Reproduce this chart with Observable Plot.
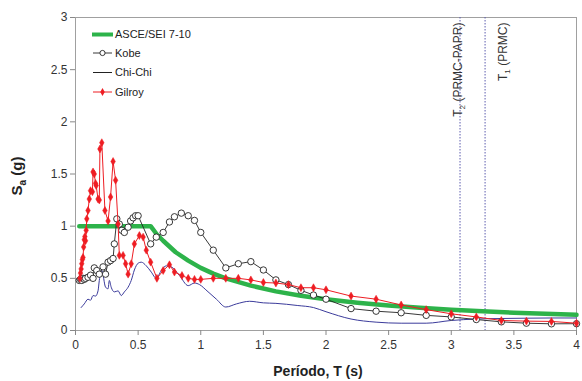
<!DOCTYPE html>
<html><head><meta charset="utf-8">
<script src="https://cdn.jsdelivr.net/npm/d3@7"></script>
<script src="https://cdn.jsdelivr.net/npm/@observablehq/plot@0.6"></script>
<style>
body{margin:0;background:#fff;}
#chart{position:relative;width:582px;height:381px;}
</style></head><body><div id="chart"></div>
<script>
// ---- Data ----
const asceT  = [0.03,0.6,0.65,0.7,0.8,0.9,1.0,1.1,1.2,1.4,1.6,1.8,2.0,2.25,2.5,2.75,3.0,3.25,3.5,3.75,4.0];
const asceSa = [1.0,1.0,0.92,0.86,0.75,0.67,0.60,0.545,0.50,0.43,0.375,0.333,0.30,0.267,0.24,0.218,0.20,0.185,0.171,0.16,0.15];

const kobeT  = [0.03,0.04,0.05,0.06,0.07,0.08,0.10,0.12,0.14,0.15,0.17,0.19,0.22,0.24,0.26,0.28,0.30,0.31,0.33,0.35,0.37,0.39,0.42,0.44,0.46,0.48,0.50,0.60,0.645,0.70,0.75,0.79,0.845,0.90,0.95,1.0,1.1,1.2,1.3,1.4,1.5,1.6,1.7,1.8,1.9,2.0,2.2,2.4,2.6,2.8,3.0,3.2,3.4,3.6,3.8,4.0];
const kobeSa = [0.48,0.49,0.48,0.50,0.49,0.50,0.51,0.53,0.50,0.60,0.575,0.54,0.61,0.54,0.655,0.67,0.69,0.83,1.07,1.02,0.96,0.94,0.99,1.05,1.08,1.10,1.10,0.83,0.895,0.94,1.04,1.09,1.125,1.10,1.055,0.94,0.77,0.60,0.64,0.66,0.58,0.485,0.44,0.385,0.34,0.30,0.21,0.185,0.17,0.145,0.13,0.105,0.083,0.07,0.064,0.065];

const chiT  = [0.045,0.07,0.10,0.12,0.14,0.16,0.18,0.19,0.21,0.24,0.26,0.27,0.285,0.31,0.34,0.365,0.39,0.42,0.445,0.47,0.50,0.525,0.565,0.605,0.645,0.685,0.725,0.765,0.83,0.90,0.95,0.99,1.05,1.125,1.2,1.285,1.39,1.5,1.6,1.77,1.9,2.0,2.2,2.4,2.6,2.8,3.0,3.2,3.4,3.6,3.8,4.0];
const chiSa = [0.22,0.255,0.30,0.29,0.335,0.33,0.38,0.48,0.575,0.415,0.40,0.48,0.415,0.37,0.38,0.335,0.37,0.415,0.48,0.58,0.645,0.655,0.62,0.56,0.50,0.575,0.62,0.61,0.527,0.43,0.455,0.44,0.38,0.30,0.225,0.255,0.28,0.265,0.26,0.24,0.22,0.18,0.11,0.08,0.07,0.07,0.096,0.11,0.115,0.118,0.12,0.12];

const gilT  = [0.035,0.04,0.045,0.05,0.055,0.06,0.065,0.07,0.075,0.08,0.085,0.09,0.10,0.11,0.12,0.135,0.14,0.15,0.16,0.165,0.18,0.19,0.195,0.21,0.235,0.26,0.28,0.30,0.32,0.34,0.35,0.38,0.40,0.42,0.445,0.47,0.51,0.54,0.565,0.60,0.65,0.70,0.75,0.79,0.85,0.90,0.95,1.0,1.1,1.2,1.3,1.4,1.5,1.6,1.7,1.8,1.9,2.0,2.2,2.4,2.6,2.8,3.0,3.2,3.4,3.6,3.8,4.0];
const gilSa = [0.50,0.55,0.59,0.64,0.68,0.70,0.80,0.87,0.90,0.86,0.96,1.07,1.15,1.26,1.34,1.33,1.52,1.50,1.41,1.39,1.26,1.25,1.74,1.80,1.15,1.05,1.28,1.62,1.44,1.02,0.72,0.72,0.64,0.54,0.64,0.83,0.91,0.895,0.77,0.655,0.50,0.575,0.63,0.56,0.527,0.50,0.49,0.49,0.50,0.50,0.50,0.485,0.46,0.455,0.44,0.41,0.41,0.39,0.33,0.30,0.245,0.20,0.16,0.13,0.096,0.09,0.087,0.07];

const periodT      = [3.07, 3.27];
const periodSub    = ["2", "1"];
const periodRest   = [" (PRMC-PAPR)", " (PRMC)"];

const xTicks = [0,0.5,1,1.5,2,2.5,3,3.5,4];
const yTicks = [0,0.5,1,1.5,2,2.5,3];
const seriesNames = ["ASCE/SEI 7-10","Kobe","Chi-Chi","Gilroy"];

// ---- build tables ----
const zip = (T, S) => T.map((t, i) => ({T: t, Sa: S[i]}));
const asce = zip(asceT, asceSa), kobe = zip(kobeT, kobeSa), chi = zip(chiT, chiSa), gil = zip(gilT, gilSa);
const periods = periodT.map((t, i) => ({T: t, label: "T" + periodSub[i] + periodRest[i], sub: periodSub[i], rest: periodRest[i]}));

const FONT = "'Liberation Sans', Arial, sans-serif";
const green = "#2db34a", red = "#ee1d23", navy = "#3b3b9b";
const fmt = d => String(d);

const plot = Plot.plot({
  width: 582, height: 381,
  marginLeft: 75, marginRight: 6, marginTop: 17, marginBottom: 51,
  style: {fontFamily: FONT, fontSize: "12px", color: "#333", background: "#fff"},
  x: {domain: [0, 4], label: null},
  y: {domain: [0, 3], label: null},
  marks: [
    Plot.frame({stroke: "#a0a0a0"}),
    Plot.axisX({ticks: xTicks, tickFormat: fmt, tickSize: 5, tickPadding: 5, stroke: "#888", fill: "#333", fontSize: 12, label: null}),
    Plot.axisY({ticks: yTicks, tickFormat: fmt, tickSize: 5, tickPadding: 3, stroke: "#888", fill: "#333", fontSize: 12, label: null}),
    Plot.ruleX(periods, {x: "T", stroke: "#5c5cae", strokeWidth: 1, strokeDasharray: "1.5,1.5"}),
    Plot.text(periods.filter((d, i) => i === 0), {x: "T", text: "label", frameAnchor: "top", rotate: -90, textAnchor: "end", dy: 5, dx: -7, fontSize: 12, fill: "#333", className: "plabel"}),
    Plot.text(periods.filter((d, i) => i === 1), {x: "T", text: "label", frameAnchor: "top", rotate: -90, textAnchor: "end", dy: 5, dx: 13, fontSize: 12, fill: "#333", className: "plabel"}),
    Plot.line(asce, {x: "T", y: "Sa", stroke: green, strokeWidth: 4.5, strokeLinejoin: "round"}),
    Plot.line(chi, {x: "T", y: "Sa", stroke: navy, strokeWidth: 1, curve: "monotone-x"}),
    Plot.line(kobe, {x: "T", y: "Sa", stroke: "#222", strokeWidth: 0.9}),
    Plot.dot(kobe, {x: "T", y: "Sa", r: 3.2, stroke: "#222", strokeWidth: 0.9, fill: "#fff"}),
    Plot.line(gil, {x: "T", y: "Sa", stroke: red, strokeWidth: 1}),
    Plot.dot(gil, {x: "T", y: "Sa", symbol: "diamond", r: 2.4, fill: red, stroke: red, strokeWidth: 0.5})
  ]
});

const svg = d3.select(plot);
// real subscripts in the period labels
svg.selectAll("g.plabel text").each(function() {
  const t = d3.select(this);
  const p = periods.find(d => d.label === t.text());
  if (!p) return;
  t.text("");
  t.append("tspan").text("T");
  t.append("tspan").text(p.sub).attr("font-size", "8px").attr("dy", "3");
  t.append("tspan").text(p.rest).attr("dy", "-3");
});

// axis titles
const yl = svg.append("text")
  .attr("transform", "translate(22,176) rotate(-90)")
  .attr("text-anchor", "middle")
  .style("font-family", FONT).style("font-size", "15px").style("font-weight", "bold").attr("fill", "#222");
yl.append("tspan").text("S");
yl.append("tspan").text("a").attr("font-size", "10px").attr("dy", "4");
yl.append("tspan").text(" (g)").attr("dy", "-4");

svg.append("text")
  .attr("x", 318).attr("y", 376)
  .attr("text-anchor", "middle")
  .style("font-family", FONT).style("font-size", "14px").style("font-weight", "bold").attr("fill", "#222")
  .text("Período, T (s)");

// legend
const lg = svg.append("g").attr("text-anchor", "start").style("font-family", FONT).style("font-size", "11px");
const rows = [34.5, 53, 72.5, 92];
lg.append("line").attr("x1", 92).attr("x2", 113).attr("y1", rows[0]).attr("y2", rows[0]).attr("stroke", green).attr("stroke-width", 4);
lg.append("line").attr("x1", 93).attr("x2", 112).attr("y1", rows[1]).attr("y2", rows[1]).attr("stroke", "#222").attr("stroke-width", 0.9);
lg.append("circle").attr("cx", 102.5).attr("cy", rows[1]).attr("r", 2.6).attr("fill", "#fff").attr("stroke", "#222").attr("stroke-width", 0.9);
lg.append("line").attr("x1", 93).attr("x2", 112).attr("y1", rows[2]).attr("y2", rows[2]).attr("stroke", "#222").attr("stroke-width", 1);
lg.append("line").attr("x1", 93).attr("x2", 112).attr("y1", rows[3]).attr("y2", rows[3]).attr("stroke", red).attr("stroke-width", 1);
lg.append("path").attr("d", d3.symbol(d3.symbolDiamond, 18)()).attr("transform", `translate(102.5,${rows[3]})`).attr("fill", red);
seriesNames.forEach((n, i) => {
  lg.append("text").attr("x", 115).attr("y", rows[i]).attr("dy", "0.35em").attr("text-anchor", "start").attr("fill", "#222").text(n);
});

document.getElementById("chart").appendChild(plot);
</script>
</body></html>
